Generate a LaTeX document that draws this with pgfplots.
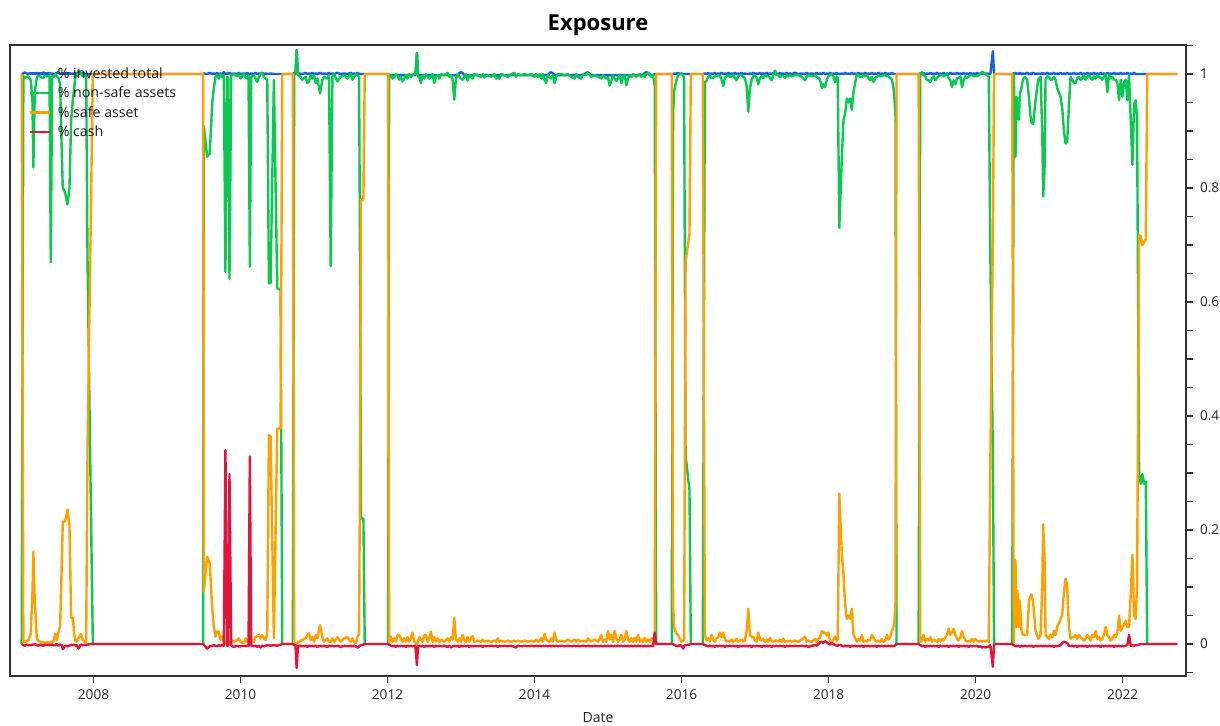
\documentclass[border=0pt]{standalone}
\usepackage{fontspec}
\setmainfont{Open Sans}
\usepackage{pgfplots}
\usepackage{pgfplotstable}
\pgfplotsset{compat=1.18}
\definecolor{cblue}{RGB}{25,95,215}
\definecolor{cgreen}{RGB}{10,200,80}
\definecolor{corange}{RGB}{255,160,0}
\definecolor{cred}{RGB}{225,20,60}
\pgfplotstableread{
x t g s c
2007.023 1.000 0.000 1.000 0.000
2007.046 1.001 0.996 0.003 -0.002
2007.068 1.003 0.993 0.004 -0.003
2007.091 1.001 0.995 0.005 -0.001
2007.114 1.000 0.996 0.007 -0.002
2007.146 1.002 0.989 0.018 -0.002
2007.169 1.000 0.954 0.088 -0.001
2007.182 1.001 0.836 0.162 -0.001
2007.201 1.000 0.968 0.074 0.000
2007.228 1.002 0.993 0.011 -0.002
2007.250 1.000 0.998 0.005 -0.003
2007.273 1.001 0.996 0.004 -0.001
2007.296 1.000 0.993 0.003 -0.002
2007.319 1.003 0.993 0.003 -0.003
2007.341 1.001 0.998 0.002 -0.001
2007.373 1.000 0.996 0.003 -0.002
2007.401 1.002 1.000 0.002 -0.002
2007.419 1.000 0.670 0.004 -0.001
2007.437 1.001 0.996 0.003 -0.001
2007.460 1.000 0.995 0.006 -0.002
2007.478 1.000 1.000 0.018 -0.002
2007.501 1.002 0.996 0.007 0.000
2007.523 1.003 0.993 0.021 -0.003
2007.546 1.000 0.982 0.032 -0.001
2007.569 1.001 0.860 0.144 -0.002
2007.582 1.000 0.800 0.215 -0.009
2007.614 1.001 0.792 0.215 -0.003
2007.646 1.000 0.771 0.236 -0.004
2007.673 1.002 0.800 0.208 -0.003
2007.696 1.000 0.919 0.046 -0.001
2007.719 1.001 0.954 0.046 -0.002
2007.737 1.000 0.975 0.018 -0.001
2007.755 1.002 0.998 0.005 -0.003
2007.773 1.000 0.996 0.004 -0.002
2007.796 1.001 1.007 0.010 -0.008
2007.828 1.000 1.000 0.018 -0.001
2007.855 1.002 0.996 0.007 -0.002
2007.887 1.000 0.998 0.004 -0.001
2007.900 1.000 0.996 0.003 -0.002
2007.919 1.000 0.672 0.345 -0.001
2007.955 1.000 0.327 0.672 0.000
2007.991 1.000 0.000 1.000 0.000
2009.491 1.000 0.000 1.000 0.000
2009.500 1.001 0.909 0.092 -0.001
2009.546 1.000 0.855 0.153 -0.008
2009.582 1.002 0.861 0.141 -0.004
2009.614 1.000 0.947 0.065 -0.003
2009.637 1.001 0.975 0.030 -0.002
2009.659 1.000 0.995 0.013 -0.003
2009.682 1.002 0.998 0.022 -0.004
2009.705 1.000 0.992 0.022 -0.002
2009.727 1.001 1.000 0.007 -0.003
2009.750 1.000 0.995 0.013 -0.002
2009.773 1.003 0.998 0.004 -0.003
2009.795 1.000 0.653 0.002 0.340
2009.818 1.001 0.995 0.007 -0.003
2009.832 1.000 0.992 0.004 -0.003
2009.850 1.002 0.641 0.002 0.298
2009.873 1.000 0.998 0.007 -0.003
2009.909 1.001 1.000 0.004 -0.005
2009.955 1.000 0.996 0.007 -0.003
2009.977 1.002 1.000 0.010 -0.004
2010.000 1.000 0.992 0.004 -0.004
2010.045 1.001 1.000 0.002 -0.003
2010.068 1.000 0.995 0.010 -0.004
2010.091 1.002 0.992 0.004 -0.003
2010.109 1.000 0.998 0.007 -0.004
2010.127 1.000 0.662 0.002 0.329
2010.145 1.001 0.995 0.007 -0.003
2010.182 1.000 0.998 0.004 -0.004
2010.204 1.002 0.992 0.012 -0.003
2010.227 1.000 0.986 0.014 -0.005
2010.250 1.001 0.995 0.016 -0.003
2010.273 1.000 1.000 0.010 -0.006
2010.295 1.002 1.002 0.016 -0.003
2010.318 1.000 0.995 0.010 -0.004
2010.341 1.001 0.992 0.007 -0.003
2010.364 1.000 0.990 0.019 -0.002
2010.386 1.000 0.633 0.367 -0.002
2010.409 1.001 0.633 0.364 -0.003
2010.454 1.000 0.989 0.010 -0.002
2010.500 1.000 0.624 0.378 -0.003
2010.522 1.000 0.623 0.378 -0.002
2010.545 1.000 0.622 0.378 -0.001
2010.568 1.000 0.000 1.000 0.000
2010.712 1.000 0.000 1.000 0.000
2010.730 1.002 1.000 0.000 -0.002
2010.748 1.000 1.000 0.002 -0.002
2010.763 1.042 1.042 0.000 -0.042
2010.782 1.000 0.998 0.004 -0.003
2010.795 1.001 0.998 0.004 -0.003
2010.841 1.000 0.990 0.007 -0.004
2010.886 1.002 0.995 0.010 -0.003
2010.909 1.000 0.984 0.016 -0.005
2010.932 1.001 0.987 0.019 -0.003
2010.954 1.000 0.998 0.007 -0.004
2010.977 1.002 0.992 0.012 -0.003
2011.000 1.000 0.998 0.004 -0.004
2011.023 1.001 0.984 0.016 -0.003
2011.045 1.000 0.992 0.010 -0.005
2011.082 1.002 0.966 0.033 -0.003
2011.113 1.000 0.990 0.012 -0.004
2011.136 1.001 0.995 0.004 -0.003
2011.182 1.000 0.992 0.010 -0.005
2011.204 1.002 0.998 0.004 -0.003
2011.227 1.000 0.663 0.004 -0.004
2011.250 1.001 0.995 0.010 -0.003
2011.273 1.000 1.000 0.004 -0.004
2011.318 1.002 0.987 0.012 -0.003
2011.363 1.000 0.995 0.004 -0.005
2011.409 1.001 0.998 0.010 -0.003
2011.454 1.000 0.992 0.012 -0.004
2011.500 1.002 1.000 0.004 -0.003
2011.522 1.000 0.990 0.010 -0.004
2011.545 1.001 0.995 0.004 -0.003
2011.568 1.000 1.000 0.002 -0.004
2011.590 1.002 0.998 0.012 -0.006
2011.613 1.000 0.995 0.018 -0.005
2011.622 1.000 0.780 0.220 -0.003
2011.640 1.000 0.220 0.780 -0.002
2011.672 1.000 0.220 0.780 -0.001
2011.690 1.000 0.000 1.000 0.000
2012.008 1.000 0.000 1.000 0.000
2012.022 0.998 0.998 0.002 -0.001
2012.045 0.998 0.998 0.013 -0.003
2012.068 0.998 0.992 0.004 -0.004
2012.091 0.998 0.995 0.010 -0.003
2012.113 0.998 1.000 0.004 -0.005
2012.136 0.998 0.998 0.016 -0.003
2012.159 0.998 0.990 0.016 -0.004
2012.182 0.998 0.995 0.010 -0.003
2012.204 0.998 0.987 0.004 -0.004
2012.227 0.998 0.992 0.010 -0.003
2012.250 0.998 0.998 0.004 -0.005
2012.272 0.998 0.992 0.012 -0.003
2012.295 0.998 1.000 0.004 -0.004
2012.317 0.998 0.995 0.010 -0.003
2012.340 0.998 0.998 0.020 -0.004
2012.363 0.998 1.000 0.004 -0.003
2012.380 0.998 1.000 0.002 -0.003
2012.400 1.037 1.037 0.000 -0.037
2012.415 0.998 0.995 0.004 -0.004
2012.431 0.998 0.995 0.012 -0.003
2012.454 0.998 0.984 0.008 -0.004
2012.476 0.998 0.998 0.004 -0.003
2012.499 0.998 0.992 0.016 -0.005
2012.522 0.998 1.000 0.016 -0.003
2012.545 0.998 0.995 0.004 -0.004
2012.568 0.998 0.992 0.010 -0.003
2012.590 0.998 0.995 0.022 -0.004
2012.613 0.998 1.000 0.004 -0.003
2012.636 0.998 0.984 0.012 -0.005
2012.658 0.998 0.995 0.004 -0.003
2012.681 0.998 0.998 0.010 -0.004
2012.704 0.998 0.992 0.004 -0.003
2012.727 0.998 1.000 0.008 -0.004
2012.772 0.998 0.998 0.004 -0.003
2012.817 0.998 1.002 0.010 -0.005
2012.840 0.998 0.995 0.004 -0.003
2012.863 0.998 0.998 0.012 -0.006
2012.885 0.998 0.990 0.008 -0.004
2012.908 0.998 0.955 0.046 -0.003
2012.931 0.998 0.992 0.008 -0.004
2012.954 0.998 1.000 0.004 -0.003
2012.977 1.002 0.995 0.010 -0.005
2013.000 1.003 0.992 0.004 -0.003
2013.022 1.002 0.990 0.016 -0.004
2013.045 0.998 0.995 0.008 -0.003
2013.068 0.998 1.000 0.004 -0.004
2013.090 0.998 0.988 0.012 -0.003
2013.113 0.998 0.998 0.004 -0.005
2013.136 0.998 0.995 0.010 -0.003
2013.158 0.998 0.992 0.014 -0.004
2013.181 0.998 1.000 0.004 -0.003
2013.227 0.998 0.998 0.006 -0.004
2013.272 0.998 0.995 0.004 -0.003
2013.295 0.998 1.000 0.008 -0.005
2013.317 0.998 0.994 0.004 -0.003
2013.363 0.998 0.998 0.006 -0.004
2013.408 0.998 0.995 0.004 -0.003
2013.454 0.998 1.000 0.006 -0.004
2013.476 0.998 0.992 0.004 -0.003
2013.499 0.998 0.995 0.010 -0.005
2013.522 0.998 0.992 0.004 -0.003
2013.545 0.998 1.000 0.006 -0.004
2013.590 0.998 0.998 0.004 -0.003
2013.636 0.998 0.995 0.006 -0.004
2013.681 0.998 1.000 0.004 -0.003
2013.726 0.998 1.002 0.006 -0.005
2013.749 0.998 0.995 0.004 -0.006
2013.772 0.998 1.000 0.006 -0.003
2013.817 0.998 0.998 0.004 -0.004
2013.863 0.998 1.000 0.006 -0.003
2013.908 0.998 0.998 0.004 -0.004
2013.954 0.998 1.000 0.006 -0.003
2013.999 0.998 0.995 0.004 -0.004
2014.022 0.998 1.000 0.008 -0.003
2014.045 0.998 0.995 0.004 -0.004
2014.068 0.998 1.000 0.006 -0.003
2014.090 0.998 0.992 0.010 -0.004
2014.113 0.998 1.000 0.004 -0.003
2014.136 0.998 0.990 0.018 -0.004
2014.158 0.998 0.984 0.008 -0.003
2014.181 0.998 0.998 0.006 -0.004
2014.204 1.002 0.995 0.004 -0.003
2014.226 1.003 0.992 0.010 -0.004
2014.249 1.001 0.998 0.004 -0.003
2014.272 0.998 0.984 0.020 -0.004
2014.295 0.998 0.995 0.008 -0.003
2014.317 0.998 1.000 0.004 -0.004
2014.363 0.998 1.000 0.006 -0.003
2014.408 0.998 0.998 0.004 -0.004
2014.453 0.998 1.000 0.008 -0.003
2014.499 0.998 0.995 0.004 -0.004
2014.545 0.998 0.992 0.008 -0.003
2014.568 0.998 1.000 0.004 -0.004
2014.590 0.998 0.995 0.008 -0.003
2014.635 0.998 0.992 0.004 -0.004
2014.658 0.998 1.000 0.006 -0.003
2014.704 1.002 0.998 0.004 -0.004
2014.726 1.003 1.002 0.010 -0.003
2014.772 0.998 0.995 0.004 -0.004
2014.817 0.998 0.998 0.008 -0.003
2014.863 0.998 0.995 0.004 -0.004
2014.908 0.998 0.992 0.016 -0.003
2014.931 0.998 0.998 0.004 -0.004
2014.954 0.998 0.995 0.008 -0.003
2014.976 0.998 0.992 0.004 -0.004
2014.999 0.998 0.995 0.023 -0.003
2015.022 0.998 0.980 0.008 -0.004
2015.044 0.998 0.988 0.016 -0.003
2015.067 0.998 0.998 0.004 -0.004
2015.090 0.998 0.992 0.023 -0.003
2015.113 0.998 0.988 0.010 -0.004
2015.135 0.998 0.992 0.004 -0.003
2015.158 0.998 0.998 0.008 -0.004
2015.181 0.998 0.984 0.016 -0.003
2015.204 0.998 0.995 0.004 -0.004
2015.227 0.998 0.998 0.008 -0.003
2015.249 0.998 0.980 0.023 -0.004
2015.272 0.998 0.992 0.008 -0.003
2015.295 0.998 0.998 0.004 -0.004
2015.317 0.998 0.995 0.010 -0.003
2015.340 0.998 1.000 0.004 -0.004
2015.362 0.998 0.998 0.011 -0.003
2015.385 0.998 0.995 0.004 -0.004
2015.408 0.998 0.998 0.016 -0.003
2015.431 0.998 1.000 0.004 -0.004
2015.453 0.998 0.995 0.008 -0.003
2015.476 0.998 0.998 0.004 -0.004
2015.499 1.002 0.995 0.011 -0.003
2015.522 1.003 1.000 0.004 -0.004
2015.544 1.002 1.002 0.008 -0.003
2015.567 1.000 0.998 0.004 -0.004
2015.590 0.998 0.995 0.010 -0.003
2015.612 0.998 0.998 0.009 -0.004
2015.635 1.000 0.980 0.010 0.020
2015.655 1.000 0.000 1.000 0.000
2015.866 1.000 0.000 1.000 0.000
2015.885 1.000 0.930 0.070 0.000
2015.899 1.001 0.970 0.030 -0.001
2015.922 1.000 0.985 0.020 -0.003
2015.953 1.002 0.998 0.016 -0.004
2015.975 1.000 1.000 0.010 -0.002
2016.000 1.001 1.000 0.004 -0.003
2016.022 1.000 0.998 0.006 -0.008
2016.035 1.000 0.990 0.008 -0.003
2016.055 1.000 0.330 0.670 -0.002
2016.108 1.000 0.270 0.720 -0.001
2016.126 1.000 0.000 1.000 0.000
2016.289 1.000 0.000 1.000 0.000
2016.317 1.001 0.985 0.016 -0.002
2016.340 1.000 0.989 0.006 -0.003
2016.362 1.002 0.995 0.010 -0.004
2016.385 1.000 0.998 0.004 -0.003
2016.408 1.001 0.993 0.016 -0.004
2016.430 1.000 0.993 0.008 -0.003
2016.453 1.002 0.996 0.004 -0.005
2016.476 1.000 0.996 0.010 -0.003
2016.499 1.001 0.998 0.012 -0.004
2016.521 1.000 0.998 0.020 -0.003
2016.544 1.002 0.990 0.012 -0.004
2016.567 1.000 0.979 0.020 -0.003
2016.590 1.001 0.993 0.008 -0.005
2016.612 1.000 0.996 0.004 -0.003
2016.635 1.002 0.998 0.006 -0.004
2016.658 1.000 0.995 0.004 -0.003
2016.680 1.001 0.996 0.008 -0.004
2016.704 1.000 0.998 0.004 -0.003
2016.726 1.002 0.993 0.006 -0.004
2016.749 1.000 0.989 0.009 -0.003
2016.772 1.001 0.996 0.004 -0.005
2016.795 1.000 0.998 0.006 -0.003
2016.817 1.002 0.998 0.008 -0.004
2016.840 1.000 0.995 0.004 -0.003
2016.862 1.001 0.993 0.006 -0.004
2016.885 1.000 0.979 0.023 -0.003
2016.908 1.000 0.934 0.062 -0.004
2016.930 1.001 0.975 0.016 -0.003
2016.953 1.000 0.989 0.012 -0.005
2016.976 1.002 0.996 0.013 -0.003
2016.999 1.000 0.998 0.006 -0.004
2017.022 1.001 0.993 0.004 -0.003
2017.044 1.000 0.982 0.020 -0.004
2017.067 1.002 0.993 0.008 -0.003
2017.090 1.000 0.996 0.006 -0.005
2017.112 1.001 0.993 0.009 -0.003
2017.135 1.000 0.998 0.004 -0.004
2017.158 1.002 0.996 0.008 -0.003
2017.180 1.000 0.996 0.004 -0.004
2017.203 1.001 0.993 0.011 -0.003
2017.226 1.000 0.989 0.006 -0.005
2017.249 1.002 0.998 0.004 -0.003
2017.271 1.000 1.006 0.006 -0.004
2017.294 1.001 0.998 0.006 -0.003
2017.317 1.000 0.998 0.004 -0.004
2017.340 1.002 0.995 0.008 -0.003
2017.362 1.000 0.996 0.004 -0.004
2017.385 1.001 0.996 0.009 -0.003
2017.408 1.000 0.993 0.004 -0.005
2017.431 1.002 0.998 0.006 -0.003
2017.453 1.000 0.996 0.004 -0.004
2017.476 1.001 0.998 0.006 -0.003
2017.499 1.000 0.996 0.004 -0.004
2017.544 1.002 0.998 0.006 -0.003
2017.590 1.000 0.998 0.004 -0.004
2017.635 1.001 0.995 0.008 -0.003
2017.680 1.000 0.989 0.013 -0.004
2017.703 1.002 0.996 0.004 -0.003
2017.726 1.000 0.998 0.006 -0.005
2017.772 1.001 0.996 0.004 -0.003
2017.817 1.000 0.998 0.009 -0.002
2017.840 1.002 0.995 0.004 -0.003
2017.862 1.000 0.993 0.009 0.000
2017.885 1.001 0.990 0.012 0.003
2017.908 1.000 0.975 0.023 0.004
2017.930 1.002 0.982 0.020 0.002
2017.953 1.000 0.977 0.020 0.005
2017.976 1.001 0.990 0.015 0.003
2017.998 1.000 0.996 0.020 0.001
2018.021 1.002 0.998 0.006 -0.001
2018.044 1.000 1.000 0.004 0.002
2018.067 1.001 0.995 0.008 0.000
2018.089 1.000 0.986 0.013 -0.002
2018.112 1.002 0.996 0.006 -0.003
2018.125 1.000 0.993 0.008 -0.003
2018.146 1.000 0.730 0.264 -0.001
2018.180 1.001 0.850 0.160 -0.003
2018.203 1.000 0.919 0.122 -0.004
2018.225 1.002 0.930 0.070 -0.003
2018.248 1.000 0.957 0.044 -0.004
2018.271 1.001 0.950 0.050 -0.003
2018.294 1.000 0.957 0.044 -0.005
2018.316 1.002 0.937 0.062 -0.003
2018.339 1.000 0.968 0.016 -0.004
2018.362 1.001 0.985 0.010 -0.003
2018.385 1.000 1.000 0.004 -0.004
2018.407 1.002 0.998 0.009 -0.003
2018.430 1.000 0.995 0.006 -0.004
2018.453 1.001 0.995 0.016 -0.003
2018.476 1.000 0.998 0.004 -0.005
2018.498 1.002 0.996 0.006 -0.003
2018.521 1.000 0.998 0.004 -0.004
2018.544 1.001 0.993 0.008 -0.003
2018.566 1.000 0.989 0.006 -0.004
2018.589 1.002 0.995 0.016 -0.003
2018.612 1.000 0.986 0.011 -0.004
2018.635 1.001 0.993 0.006 -0.003
2018.657 1.000 0.995 0.004 -0.005
2018.680 1.002 0.998 0.006 -0.003
2018.703 1.000 0.996 0.004 -0.004
2018.725 1.001 0.996 0.009 -0.003
2018.748 1.000 0.998 0.004 -0.004
2018.771 1.002 0.998 0.006 -0.003
2018.794 1.000 0.996 0.016 -0.004
2018.816 1.001 0.996 0.008 -0.003
2018.839 1.000 0.993 0.012 -0.004
2018.862 1.002 0.990 0.023 -0.003
2018.884 1.000 0.975 0.030 -0.004
2018.898 1.000 0.954 0.044 -0.003
2018.910 1.000 0.930 0.070 -0.002
2018.925 1.000 0.000 1.000 0.000
2019.225 1.000 0.000 1.000 0.000
2019.248 1.001 1.000 0.004 -0.002
2019.271 1.000 1.003 0.006 -0.004
2019.294 1.002 0.998 0.016 -0.003
2019.316 1.000 0.996 0.004 -0.005
2019.339 1.001 0.989 0.009 -0.003
2019.362 1.000 0.989 0.006 -0.004
2019.385 1.002 0.986 0.012 -0.003
2019.407 1.000 0.993 0.004 -0.004
2019.430 1.001 0.996 0.008 -0.003
2019.452 1.000 0.989 0.006 -0.004
2019.475 1.002 0.993 0.004 -0.003
2019.498 1.000 0.996 0.009 -0.005
2019.521 1.001 0.998 0.004 -0.003
2019.543 1.000 0.998 0.009 -0.004
2019.566 1.002 0.996 0.006 -0.003
2019.589 1.000 0.998 0.012 -0.004
2019.612 1.001 1.000 0.016 -0.003
2019.634 1.000 0.993 0.027 -0.005
2019.657 1.002 0.989 0.016 -0.003
2019.680 1.000 0.977 0.020 -0.004
2019.702 1.001 0.989 0.027 -0.003
2019.725 1.000 0.982 0.016 -0.004
2019.748 1.002 0.993 0.009 -0.003
2019.771 1.000 0.993 0.006 -0.005
2019.793 1.001 0.996 0.012 -0.003
2019.816 1.000 0.977 0.023 -0.004
2019.839 1.002 0.989 0.012 -0.003
2019.862 1.000 0.996 0.006 -0.004
2019.884 1.001 0.993 0.004 -0.003
2019.907 1.000 0.996 0.006 -0.005
2019.930 1.002 0.998 0.004 -0.003
2019.952 1.000 0.998 0.009 -0.004
2019.975 1.001 0.996 0.004 -0.003
2019.998 1.000 0.996 0.009 -0.004
2020.020 1.002 0.996 0.006 -0.003
2020.043 1.000 0.998 0.004 -0.005
2020.066 1.001 1.000 0.006 -0.004
2020.089 1.000 1.004 0.004 -0.006
2020.111 1.002 1.002 0.006 -0.005
2020.134 1.000 1.000 0.004 -0.006
2020.157 1.001 0.998 0.006 -0.005
2020.180 1.000 0.995 0.004 -0.005
2020.202 1.000 0.672 0.330 -0.002
2020.235 1.040 0.334 0.710 -0.040
2020.252 1.000 0.000 1.000 0.000
2020.498 1.000 0.000 1.000 0.000
2020.520 1.001 1.000 0.003 -0.002
2020.543 1.002 0.855 0.147 -0.004
2020.557 1.000 0.960 0.030 -0.003
2020.570 1.001 0.933 0.094 -0.004
2020.589 1.000 0.920 0.030 -0.003
2020.602 1.002 0.965 0.076 -0.005
2020.625 1.000 0.975 0.023 -0.003
2020.643 1.001 0.990 0.016 -0.004
2020.670 1.000 0.995 0.016 -0.003
2020.702 1.002 0.990 0.016 -0.004
2020.725 1.000 0.960 0.073 -0.003
2020.743 1.001 0.930 0.083 -0.004
2020.761 1.000 0.915 0.087 -0.003
2020.784 1.002 0.912 0.073 -0.005
2020.816 1.000 0.954 0.023 -0.003
2020.852 1.001 0.990 0.009 -0.004
2020.884 1.000 0.995 0.016 -0.003
2020.907 1.002 0.900 0.100 -0.004
2020.920 1.000 0.785 0.210 -0.003
2020.938 1.001 0.830 0.150 -0.004
2020.952 1.000 0.990 0.016 -0.003
2020.975 1.002 0.996 0.012 -0.004
2020.998 1.000 0.995 0.009 -0.003
2021.021 1.001 0.990 0.016 -0.004
2021.043 1.000 0.990 0.012 -0.003
2021.066 1.002 0.995 0.023 -0.005
2021.088 1.000 0.990 0.016 -0.003
2021.111 1.001 0.975 0.030 -0.004
2021.134 1.000 0.968 0.037 -0.003
2021.156 1.002 0.960 0.044 -0.002
2021.179 1.000 0.940 0.051 0.002
2021.202 1.001 0.900 0.090 0.004
2021.224 1.000 0.878 0.115 0.003
2021.247 1.002 0.882 0.100 0.002
2021.270 1.000 0.945 0.030 -0.003
2021.292 1.001 0.995 0.009 -0.004
2021.315 1.000 0.990 0.012 -0.003
2021.338 1.002 0.985 0.012 -0.004
2021.360 1.000 0.984 0.016 -0.003
2021.383 1.001 0.993 0.009 -0.005
2021.406 1.000 0.995 0.016 -0.003
2021.429 1.002 0.990 0.012 -0.004
2021.452 1.000 0.993 0.009 -0.003
2021.475 1.001 0.998 0.006 -0.004
2021.497 1.000 0.990 0.009 -0.003
2021.520 1.002 0.995 0.016 -0.005
2021.543 1.000 0.998 0.012 -0.003
2021.566 1.001 0.993 0.006 -0.004
2021.588 1.000 0.990 0.016 -0.003
2021.611 1.002 0.996 0.012 -0.004
2021.634 1.000 0.992 0.023 -0.003
2021.656 1.001 0.998 0.009 -0.004
2021.679 1.000 0.995 0.012 -0.003
2021.702 1.002 0.993 0.006 -0.005
2021.724 1.000 0.990 0.009 -0.003
2021.747 1.001 0.996 0.016 -0.004
2021.770 1.000 1.000 0.030 -0.003
2021.793 1.002 0.968 0.016 -0.004
2021.815 1.000 0.998 0.012 -0.003
2021.838 1.001 0.993 0.006 -0.004
2021.861 1.000 0.995 0.009 -0.003
2021.884 1.002 0.990 0.016 -0.005
2021.906 1.000 0.990 0.012 -0.003
2021.929 1.001 0.985 0.020 -0.004
2021.952 1.000 0.954 0.050 -0.003
2021.975 1.002 0.990 0.023 -0.004
2021.997 1.000 0.960 0.030 -0.003
2022.020 1.001 0.985 0.034 -0.004
2022.043 1.000 0.990 0.041 -0.003
2022.065 1.002 0.954 0.030 -0.002
2022.088 1.000 0.998 0.030 0.016
2022.111 1.001 0.920 0.087 -0.003
2022.134 1.000 0.841 0.157 -0.002
2022.156 1.002 0.947 0.051 -0.003
2022.179 1.000 0.954 0.044 -0.002
2022.197 1.000 0.920 0.104 -0.002
2022.225 1.000 0.298 0.718 -0.001
2022.248 1.000 0.281 0.715 0.000
2022.270 1.000 0.298 0.700 0.000
2022.293 1.000 0.281 0.705 0.000
2022.316 1.000 0.285 0.710 0.000
2022.335 1.000 0.000 1.000 0.000
2022.747 1.000 0.000 1.000 0.000
}\expdata

\begin{document}
\begin{tikzpicture}
\useasboundingbox (-5pt,-24.5pt) rectangle (605pt,338pt);
\begin{axis}[
  at={(0,0)}, anchor=south west,
  width=588pt, height=315.5pt, scale only axis,
  xmin=2006.864, xmax=2022.863, ymin=-0.0561, ymax=1.0509,
  axis line style={draw=black!80, line width=0.6pt},
  xtick={2008,2010,2012,2014,2016,2018,2020,2022},
  xticklabels={2008,2010,2012,2014,2016,2018,2020,2022},
  xtick pos=bottom, ytick pos=right, yticklabel pos=right,
  tick align=outside,
  major tick length=3.5pt, minor tick length=3.5pt,
  ytick={0,0.2,0.4,0.6,0.8,1},
  yticklabels={0,0.2,0.4,0.6,0.8,1},
  minor ytick={-0.05,0.05,0.1,0.15,0.25,0.3,0.35,0.45,0.5,0.55,0.65,0.7,0.75,0.85,0.9,0.95,1.05},
  tick style={draw=black!80, line width=0.6pt},
  ticklabel style={font=\fontsize{6.8}{8}\selectfont, text=black!85},
  /pgf/number format/assume math mode=true,
  title={Exposure},
  title style={font=\bfseries\fontsize{11}{13}\selectfont, at={(0.5,1)}, anchor=center, yshift=4pt},
  xlabel={Date},
  xlabel style={font=\fontsize{7}{8}\selectfont, at={(axis description cs:0.5,0)}, anchor=center, yshift=-21pt, text=black!85},
  legend style={at={(0.0153,0.971)}, anchor=north west, draw=none, fill=none,
    inner sep=0pt, row sep=0pt, font=\fontsize{7.1}{8}\selectfont,
    nodes={inner sep=1pt, text height=6.2pt, text depth=1.55pt, text=black!90},
    /tikz/every odd column/.append style={column sep=2.5pt}},
  legend cell align=left,
  legend image code/.code={\draw[#1] (0pt,0pt) -- (10pt,0pt);},
  every axis plot/.append style={line width=1.2pt, line join=round},
]
\addplot[cblue] table[x=x,y=t]{\expdata};
\addlegendentry{\% invested total}
\addplot[cgreen] table[x=x,y=g]{\expdata};
\addlegendentry{\% non-safe assets}
\addplot[corange] table[x=x,y=s]{\expdata};
\addlegendentry{\% safe asset}
\addplot[cred] table[x=x,y=c]{\expdata};
\addlegendentry{\% cash}
\end{axis}
\end{tikzpicture}
\end{document}
